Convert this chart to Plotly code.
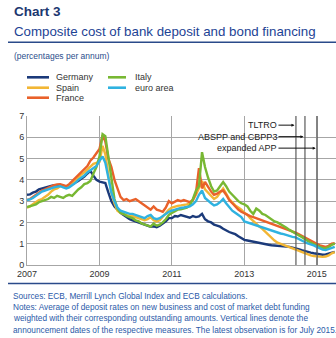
import pandas as pd
import plotly.graph_objects as go

W, H = 336, 338
L, R, T, B = 27, 0, 116, 73

dates = pd.date_range("2007-01-01", "2015-07-01", freq="MS")

germany = [
    3.30, 3.32, 3.40, 3.45, 3.55, 3.60, 3.65, 3.70, 3.72, 3.75, 3.72, 3.75,
    3.70, 3.68, 3.72, 3.80, 3.85, 3.95, 4.05, 4.15, 4.30, 4.42, 4.20, 4.00,
    3.92, 3.88, 3.85, 3.40, 3.00, 2.75, 2.60, 2.45, 2.35, 2.25, 2.15, 2.10,
    2.05, 2.00, 1.95, 1.90, 1.85, 1.80, 1.82, 1.78, 1.85, 1.95, 2.05, 2.20,
    2.20, 2.30, 2.28, 2.35, 2.30, 2.25, 2.22, 2.30, 2.25, 2.28, 2.40, 2.15,
    2.05, 2.00, 1.90, 1.85, 1.80, 1.70, 1.62, 1.55, 1.50, 1.45, 1.35, 1.25,
    1.18, 1.15, 1.12, 1.10, 1.05, 1.02, 1.00, 0.98, 0.95, 0.93, 0.92, 0.90,
    0.88, 0.87, 0.85, 0.85, 0.82, 0.80, 0.75, 0.70, 0.65, 0.62, 0.58, 0.55,
    0.52, 0.50, 0.48, 0.50, 0.55, 0.60, 0.62,
]
spain = [
    2.70, 2.75, 2.85, 2.95, 3.05, 3.10, 3.20, 3.30, 3.45, 3.55, 3.60, 3.70,
    3.72, 3.68, 3.75, 3.85, 3.95, 4.10, 4.25, 4.35, 4.50, 4.65, 4.75, 4.80,
    4.85, 5.60, 5.20, 4.20, 3.40, 2.90, 2.55, 2.45, 2.40, 2.35, 2.30, 2.30,
    2.25, 2.20, 2.15, 2.10, 2.15, 2.25, 2.10, 2.05, 2.10, 2.25, 2.40, 2.60,
    2.70, 2.75, 2.78, 2.80, 2.82, 2.85, 2.90, 3.05, 3.30, 3.60, 3.95, 3.55,
    3.40, 3.25, 3.10, 3.20, 3.40, 3.60, 3.35, 3.10, 2.95, 2.80, 2.70, 2.60,
    2.45, 2.35, 2.20, 2.05, 1.90, 1.80, 1.70, 1.55, 1.40, 1.25, 1.15, 1.05,
    1.00, 0.95, 0.90, 0.85, 0.80, 0.75, 0.68, 0.62, 0.55, 0.50, 0.45, 0.42,
    0.40, 0.38, 0.38, 0.40, 0.45, 0.55, 0.60,
]
france = [
    3.05, 3.10, 3.20, 3.30, 3.40, 3.50, 3.55, 3.62, 3.70, 3.75, 3.78, 3.80,
    3.75, 3.70, 3.80, 3.95, 4.10, 4.25, 4.40, 4.50, 4.65, 4.90, 5.05, 5.25,
    5.45, 6.10, 5.80, 5.00, 4.60, 4.00, 3.55, 3.20, 3.05, 3.10, 3.00, 3.05,
    3.10, 3.00, 2.90, 2.80, 2.70, 2.60, 2.75, 2.60, 2.55, 2.50, 2.70, 3.00,
    2.90, 3.00, 3.05, 3.00, 3.05, 3.00, 2.95, 3.05, 3.40, 4.55, 3.60, 3.90,
    3.65, 3.45, 3.30, 3.35, 3.45, 3.50, 3.30, 3.05, 2.90, 2.75, 2.60, 2.50,
    2.42, 2.35, 2.30, 2.25, 2.20, 2.15, 2.10, 2.05, 2.00, 1.95, 1.90, 1.85,
    1.80, 1.75, 1.70, 1.62, 1.58, 1.52, 1.45, 1.38, 1.30, 1.22, 1.15, 1.08,
    1.00, 0.92, 0.88, 0.85, 0.90, 1.00, 1.02,
]
italy = [
    2.72, 2.75, 2.80, 2.85, 2.95, 3.00, 3.05, 3.10, 3.20, 3.15, 3.25, 3.20,
    3.15, 3.25, 3.30, 3.25, 3.40, 3.55, 3.65, 3.80, 3.85, 3.95, 4.30, 4.60,
    5.10, 6.15, 6.05, 5.00, 4.00, 3.10, 2.65, 2.45, 2.40, 2.30, 2.25, 2.20,
    2.10, 2.05, 1.95, 1.90, 1.85, 1.80, 1.95, 1.85, 1.90, 2.00, 2.15, 2.35,
    2.45, 2.55, 2.60, 2.62, 2.65, 2.70, 2.80, 3.10, 3.50, 3.70, 5.30, 4.60,
    4.10, 3.70, 3.45, 3.50, 3.70, 3.90, 3.70, 3.45, 3.30, 3.15, 3.00, 2.90,
    2.85, 2.75, 2.55, 2.40, 2.65, 2.55, 2.40, 2.35, 2.25, 2.15, 2.05, 2.00,
    1.92, 1.85, 1.75, 1.65, 1.58, 1.50, 1.40, 1.32, 1.22, 1.12, 1.05, 0.98,
    0.90, 0.85, 0.80, 0.78, 0.85, 0.95, 1.00,
]
euro_area = [
    3.05, 3.08, 3.15, 3.25, 3.35, 3.45, 3.50, 3.55, 3.62, 3.65, 3.68, 3.70,
    3.65, 3.60, 3.65, 3.75, 3.85, 4.00, 4.10, 4.20, 4.35, 4.45, 4.55, 4.65,
    4.90, 5.10, 4.80, 4.00, 3.40, 3.00, 2.70, 2.55, 2.50, 2.45, 2.40, 2.40,
    2.35, 2.30, 2.25, 2.20, 2.30, 2.35, 2.20, 2.15, 2.20, 2.30, 2.40, 2.50,
    2.55, 2.60, 2.62, 2.68, 2.70, 2.72, 2.75, 2.85, 3.00, 3.30, 3.50, 3.15,
    3.00, 2.90, 2.80, 2.85, 2.95, 3.10, 2.90, 2.70, 2.55, 2.45, 2.35, 2.25,
    2.05, 2.00, 1.95, 1.90, 1.85, 1.80, 1.75, 1.70, 1.65, 1.60, 1.55, 1.50,
    1.48, 1.45, 1.40, 1.35, 1.32, 1.30, 1.22, 1.15, 1.08, 1.02, 0.98, 0.92,
    0.85, 0.78, 0.72, 0.70, 0.75, 0.82, 0.85,
]

series_names = ["Germany", "Spain", "France", "Italy", "euro area"]
series_values = [germany, spain, france, italy, euro_area]
series_colors = ["#1B3A7A", "#F2B635", "#E9612A", "#78B833", "#2FB2E0"]

event_labels = ["TLTRO", "ABSPP and CBPP3", "expanded APP"]
event_dates = ["2014-06-05", "2014-09-04", "2015-01-05"]
event_label_y = [6.57, 6.03, 5.49]
label_anchor_date = "2013-12-11"

x_tick_years = ["2007", "2009", "2011", "2013", "2015"]

FONT = "Liberation Sans, Arial, sans-serif"


def px(x):
    return (x - L) / (W - L - R)


def py(y):
    return (H - B - y) / (H - T - B)


fig = go.Figure()
for name, vals, col in zip(series_names, series_values, series_colors):
    fig.add_trace(go.Scatter(x=dates, y=vals, mode="lines", name=name,
                             line=dict(color=col, width=2.4), showlegend=False))

shapes = []
annotations = []

# event vertical lines
for d in event_dates:
    shapes.append(dict(type="line", xref="x", yref="y", x0=d, x1=d, y0=0, y1=7,
                       line=dict(color="#5A5A5A", width=1.2), layer="above"))

# event labels with arrows
for lab, d, yv in zip(event_labels, event_dates, event_label_y):
    annotations.append(dict(x=d, xref="x", y=yv, yref="y", text=lab,
                            showarrow=True, arrowhead=2, arrowsize=0.6, arrowwidth=1,
                            arrowcolor="#111111", ax=label_anchor_date, axref="x",
                            ay=yv, ayref="y", standoff=1.5, xanchor="right",
                            yanchor="middle", borderpad=0,
                            font=dict(family=FONT, size=9, color="#222222")))

# titles
annotations.append(dict(x=px(12), y=py(12), xref="paper", yref="paper", text="<b>Chart 3</b>",
                        showarrow=False, xanchor="left", yanchor="middle",
                        font=dict(family=FONT, size=13.5, color="#1B3770")))
annotations.append(dict(x=px(12), y=py(31), xref="paper", yref="paper",
                        text="Composite cost of bank deposit and bond financing",
                        showarrow=False, xanchor="left", yanchor="middle",
                        font=dict(family=FONT, size=13.3, color="#1D4394")))
annotations.append(dict(x=px(12), y=py(56), xref="paper", yref="paper",
                        text="(percentages per annum)",
                        showarrow=False, xanchor="left", yanchor="middle",
                        font=dict(family=FONT, size=8.5, color="#2B4E8C")))
shapes.append(dict(type="line", xref="paper", yref="paper", x0=px(8), x1=px(336),
                   y0=py(42.3), y1=py(42.3), line=dict(color="#2A4A8A", width=1.5)))

# legend (manual)
leg_pos = [(27, 49, 54, 77.3), (27, 49, 54, 87.7), (27, 49, 54, 97.7),
           (108, 126, 133, 77.3), (108, 126, 133, 87.7)]
for (x0, x1, xt, yy), name, col in zip(leg_pos, series_names, series_colors):
    shapes.append(dict(type="line", xref="paper", yref="paper", x0=px(x0), x1=px(x1),
                       y0=py(yy), y1=py(yy), line=dict(color=col, width=2.6)))
    annotations.append(dict(x=px(xt), y=py(yy), xref="paper", yref="paper", text=name,
                            showarrow=False, xanchor="left", yanchor="middle",
                            font=dict(family=FONT, size=9, color="#333333")))

# footer
shapes.append(dict(type="line", xref="paper", yref="paper", x0=px(8), x1=px(336),
                   y0=py(283.5), y1=py(283.5), line=dict(color="#2A4A8A", width=1.5)))
footer = [
    "Sources: ECB, Merrill Lynch Global Index and ECB calculations.",
    "Notes: Average of deposit rates on new business and cost of market debt funding",
    "weighted with their corresponding outstanding amounts. Vertical lines denote the",
    "announcement dates of the respective measures. The latest observation is for July 2015.",
]
for i, line in enumerate(footer):
    annotations.append(dict(x=px(11), y=py(296 + 11.4 * i), xref="paper", yref="paper",
                            text=line, showarrow=False, xanchor="left", yanchor="middle",
                            font=dict(family=FONT, size=8.25, color="#2B5AA8")))

fig.update_layout(
    width=W, height=H,
    margin=dict(l=L, r=R, t=T, b=B),
    paper_bgcolor="white", plot_bgcolor="white",
    showlegend=False,
    shapes=shapes, annotations=annotations,
    xaxis=dict(type="date", range=["2007-01-01", "2015-07-14"],
               tickvals=[y + "-01-01" for y in x_tick_years], ticktext=x_tick_years,
               showgrid=True, gridcolor="#A6A6A6", gridwidth=1,
               showline=True, linecolor="#A6A6A6", linewidth=1,
               zeroline=False, ticks="",
               tickfont=dict(family=FONT, size=9, color="#333333")),
    yaxis=dict(range=[0, 7], tickvals=list(range(0, 8)),
               showgrid=True, gridcolor="#A6A6A6", gridwidth=1,
               showline=True, linecolor="#A6A6A6", linewidth=1,
               zeroline=False, ticks="",
               tickfont=dict(family=FONT, size=9, color="#333333")),
)

fig.write_html("out.html")
